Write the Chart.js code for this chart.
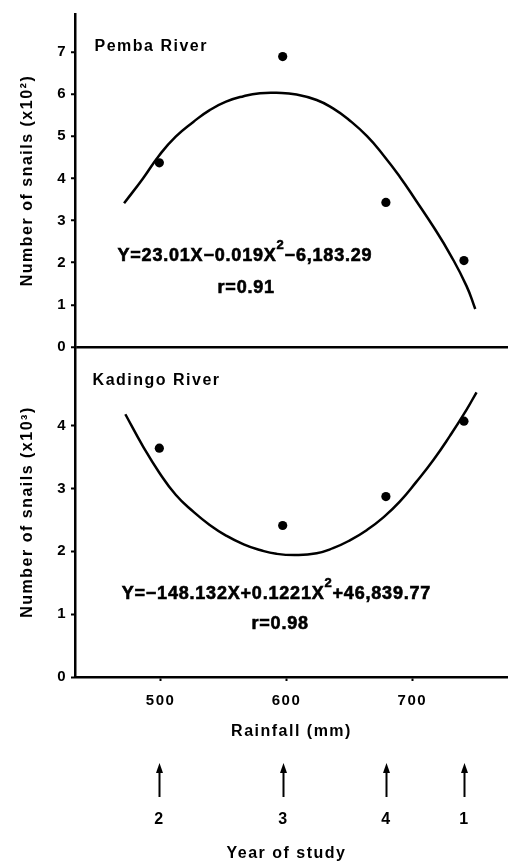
<!DOCTYPE html>
<html>
<head>
<meta charset="utf-8">
<script src="https://cdn.jsdelivr.net/npm/chart.js@4.4.1/dist/chart.umd.min.js"></script>
<style>
  html, body { margin: 0; padding: 0; background: #fff; }
  #wrap { position: relative; width: 508px; height: 861px; }
</style>
</head>
<body>
<div id="wrap"><canvas id="snailChart"></canvas></div>
<script>
// rainfall (mm) of each study year, same for both rivers
const rainfall = [499, 597, 679, 741];
const studyYears = ["2", "3", "4", "1"];

// observed snails: Pemba (x10^2), Kadingo (x10^3)
const pembaSnails = [4.37, 6.89, 3.43, 2.05];
const kadingoSnails = [3.64, 2.41, 2.87, 4.07];

// fitted curves
const pembaCurveX = [471, 486, 499, 512, 526, 539, 552, 566, 579, 592, 608, 624, 637, 650, 664, 677, 690, 703, 717, 730, 743, 750];
const pembaCurveY = [3.41, 4.00, 4.55, 4.99, 5.34, 5.62, 5.82, 5.95, 6.02, 6.03, 5.99, 5.86, 5.66, 5.38, 5.00, 4.55, 4.04, 3.47, 2.84, 2.20, 1.45, 0.90];
const kadingoCurveX = [472, 486, 499, 512, 526, 539, 552, 566, 579, 592, 608, 624, 637, 650, 664, 677, 690, 703, 717, 730, 743, 751];
const kadingoCurveY = [4.18, 3.67, 3.25, 2.90, 2.63, 2.42, 2.25, 2.11, 2.02, 1.96, 1.94, 1.97, 2.05, 2.17, 2.34, 2.54, 2.79, 3.10, 3.46, 3.84, 4.25, 4.53];

// axis ticks
const xTicks = [500, 600, 700];
const pembaTicks = [0, 1, 2, 3, 4, 5, 6, 7];
const kadingoTicks = [0, 1, 2, 3, 4];

const FONT = "'Liberation Sans', Arial, Helvetica, sans-serif";
const toPoints = (xs, ys) => xs.map((v, i) => ({ x: v, y: ys[i] }));

// ---------- letter spacing (wide old Helvetica look) ----------
const spacing = {
  id: "spacing",
  beforeUpdate(chart) { chart.ctx.letterSpacing = "1.5px"; },
  beforeDraw(chart) { chart.ctx.letterSpacing = "1.5px"; }
};

// heavy text: fill plus a thin stroke
function heavyText(ctx, txt, x, y) {
  ctx.fillText(txt, x, y);
  ctx.lineWidth = 0.6;
  ctx.strokeText(txt, x, y);
}

function drawEquation(ctx, parts, cx, baseline) {
  ctx.font = `bold 18px ${FONT}`;
  const w1 = ctx.measureText(parts[0]).width;
  const w3 = ctx.measureText(parts[2]).width;
  ctx.font = `bold 13px ${FONT}`;
  const w2 = ctx.measureText(parts[1]).width;
  let x = cx - (w1 + w2 + w3) / 2;
  ctx.textAlign = "left";
  ctx.textBaseline = "alphabetic";
  ctx.font = `bold 18px ${FONT}`;
  heavyText(ctx, parts[0], x, baseline);
  x += w1;
  ctx.font = `bold 13px ${FONT}`;
  heavyText(ctx, parts[1], x, baseline - 12);
  x += w2;
  ctx.font = `bold 18px ${FONT}`;
  heavyText(ctx, parts[2], x, baseline);
}

// ---------- labels, equations, year arrows ----------
const annotate = {
  id: "annotate",
  afterDraw(chart) {
    const { ctx, chartArea } = chart;
    const { x, yTop, yBot } = chart.scales;
    ctx.save();
    ctx.fillStyle = "#000";
    ctx.strokeStyle = "#000";

    // river names
    ctx.letterSpacing = "1.5px";
    ctx.font = `bold 16px ${FONT}`;
    ctx.textAlign = "left";
    ctx.textBaseline = "alphabetic";
    ctx.fillText("Pemba River", x.getPixelForValue(447.5), yTop.getPixelForValue(7.03));
    ctx.fillText("Kadingo River", x.getPixelForValue(446), yBot.getPixelForValue(4.64));

    // regression equations
    ctx.letterSpacing = "0.8px";
    drawEquation(ctx, ["Y=23.01X\u22120.019X", "2", "\u22126,183.29"], x.getPixelForValue(567), yTop.getPixelForValue(2.04));
    drawEquation(ctx, ["Y=\u2212148.132X+0.1221X", "2", "+46,839.77"], x.getPixelForValue(592), yBot.getPixelForValue(1.24));
    ctx.font = `bold 18px ${FONT}`;
    ctx.textAlign = "center";
    heavyText(ctx, "r=0.91", x.getPixelForValue(568), yTop.getPixelForValue(1.29));
    heavyText(ctx, "r=0.98", x.getPixelForValue(595), yBot.getPixelForValue(0.76));

    // year of study arrows
    ctx.letterSpacing = "1.5px";
    const tipY = chart.height - 98;
    const tailY = chart.height - 64;
    rainfall.forEach((r, i) => {
      const px = Math.round(x.getPixelForValue(r)) + 0.5;
      ctx.lineWidth = 2;
      ctx.beginPath();
      ctx.moveTo(px, tipY + 8);
      ctx.lineTo(px, tailY);
      ctx.stroke();
      ctx.beginPath();
      ctx.moveTo(px, tipY);
      ctx.lineTo(px - 3.5, tipY + 10);
      ctx.lineTo(px + 3.5, tipY + 10);
      ctx.closePath();
      ctx.fill();
      ctx.font = `bold 16px ${FONT}`;
      ctx.textAlign = "center";
      ctx.fillText(studyYears[i], px, chart.height - 37);
    });
    ctx.fillText("Year of study", (chartArea.left + chartArea.right) / 2 - 5, chart.height - 3);
    ctx.restore();
  }
};

const tickFont = { family: FONT, size: 15, weight: "bold" };
const titleFont = { family: FONT, size: 16, weight: "bold" };

new Chart(document.getElementById("snailChart"), {
  type: "scatter",
  data: {
    datasets: [
      { data: toPoints(pembaCurveX, pembaCurveY), yAxisID: "yTop", showLine: true, pointRadius: 0,
        borderColor: "#000", borderWidth: 2.5, tension: 0.5 },
      { data: toPoints(kadingoCurveX, kadingoCurveY), yAxisID: "yBot", showLine: true, pointRadius: 0,
        borderColor: "#000", borderWidth: 2.5, tension: 0.5 },
      { data: toPoints(rainfall, pembaSnails), yAxisID: "yTop", pointRadius: 4.6,
        backgroundColor: "#000", borderWidth: 0 },
      { data: toPoints(rainfall, kadingoSnails), yAxisID: "yBot", pointRadius: 4.6,
        backgroundColor: "#000", borderWidth: 0 }
    ]
  },
  options: {
    responsive: true,
    maintainAspectRatio: false,
    animation: false,
    layout: { autoPadding: false, padding: { left: 0, right: 0, top: 14, bottom: 116 } },
    plugins: { legend: { display: false }, tooltip: { enabled: false } },
    scales: {
      x: {
        type: "linear", min: 432, max: 776,
        afterBuildTicks: s => { s.ticks = xTicks.map(v => ({ value: v })); },
        afterFit: s => { s.height = 68; s.paddingLeft = 0; s.paddingRight = 0; },
        grid: { drawOnChartArea: false, tickColor: "#000", tickLength: 4, tickWidth: 2 },
        border: { color: "#000", width: 2.5 },
        ticks: { color: "#000", font: tickFont, padding: 11 },
        title: { display: true, text: "Rainfall (mm)", color: "#000", font: titleFont }
      },
      yBot: {
        type: "linear", position: "left", stack: "snails", stackWeight: 330,
        min: 0, max: 5.25,
        afterBuildTicks: s => { s.ticks = kadingoTicks.map(v => ({ value: v })); },
        afterFit: s => { s.width = 75; },
        grid: { drawOnChartArea: false, tickColor: "#000", tickLength: 4, tickWidth: 2 },
        border: { color: "#000", width: 2.5 },
        ticks: { color: "#000", font: tickFont, padding: 4 },
        title: { display: true, text: "Number of snails (x10\u00b3)", color: "#000", font: titleFont, padding: { top: 18 } }
      },
      yTop: {
        type: "linear", position: "left", stack: "snails", stackWeight: 333,
        min: 0, max: 7.9,
        afterBuildTicks: s => { s.ticks = pembaTicks.map(v => ({ value: v })); },
        afterFit: s => { s.width = 75; },
        grid: {
          color: c => (c.tick && c.tick.value === 0 ? "#000" : "rgba(0,0,0,0)"),
          lineWidth: 2.5, tickColor: "#000", tickLength: 4, tickWidth: 2
        },
        border: { color: "#000", width: 2.5 },
        ticks: { color: "#000", font: tickFont, padding: 4 },
        title: { display: true, text: "Number of snails (x10\u00b2)", color: "#000", font: titleFont, padding: { top: 18 } }
      }
    }
  },
  plugins: [spacing, annotate]
});
</script>
</body>
</html>
